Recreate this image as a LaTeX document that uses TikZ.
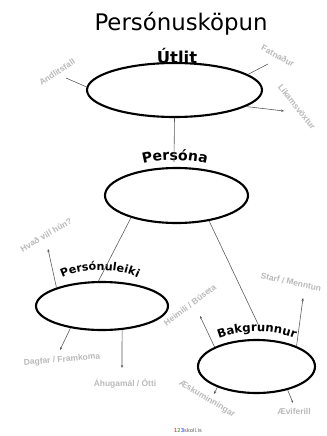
\documentclass[tikz,border=0pt]{standalone}
\usepackage{fontspec}
\setmainfont{DejaVu Sans}
\newfontfamily\hintfont{Liberation Sans}
\usetikzlibrary{shapes.geometric, arrows.meta, decorations.text}

\begin{document}
\begin{tikzpicture}[
    x=0.3mm, y=-0.3mm,
    ring/.style={ellipse, draw=black, line width=1.8pt, inner sep=0pt},
    hint/.style={font=\hintfont\bfseries\fontsize{7.2}{8}\selectfont, text=gray!55, inner sep=1pt},
    link/.style={draw=gray!70!black, line width=0.5pt},
    pointer/.style={link, -{Stealth[length=2.5pt, width=2pt]}},
    bent/.style={decorate, decoration={text along path, text align=center, text={#1}}}
]
    \useasboundingbox (0,0) rectangle (326,436);

    % Title
    \node[font=\fontsize{19.5}{22}\selectfont] (title) at (181,24) {Persónusköpun};

    % Utlit
    \node[ring, minimum width=52.5mm, minimum height=16.2mm] (utlit) at (174.5,90) {};
    \node[font=\bfseries\fontsize{14}{14}\selectfont] (utlittxt) at (177,56) {Útlit};

    % Persona
    \node[ring, minimum width=42.9mm, minimum height=16.5mm] (persona) at (176.5,195.5) {};
    \path[bent={|\bfseries\fontsize{12}{12}\selectfont|Persóna}] (128,170) .. controls (150,157) and (200,157) .. (222,170);
    \coordinate (personatxt) at (174,162);

    % Personuleiki
    \node[ring, minimum width=39.6mm, minimum height=14.4mm] (pleik) at (102,306) {};
    \path[bent={|\bfseries\fontsize{9.5}{10}\selectfont|Persónuleiki}] (50,286) .. controls (72,265) and (128,265) .. (150,286);

    % Bakgrunnur
    \node[ring, minimum width=35.1mm, minimum height=15.9mm] (bakg) at (256.5,366.5) {};
    \path[bent={|\bfseries\fontsize{10}{10}\selectfont|Bakgrunnur}] (202,348) .. controls (228,326) and (286,326) .. (312,348);
    \coordinate (bakgtxt) at (258,324);

    % main links
    \draw[link] (utlit.south) -- (personatxt);
    \draw[link] (persona.206) -- (pleik.98);
    \draw[link] (persona.322) -- (bakgtxt);

    % Utlit hints
    \node[hint, rotate=33] (andlit) at (57,72) {Andlitsfall};
    \node[hint, rotate=-29] (fatn) at (278,56) {Fatnaður};
    \node[hint, rotate=-52] (likam) at (297,107) {Líkamsvöxtur};
    \coordinate (andlitend) at (66,78);
    \coordinate (fatnend) at (268,64);
    \coordinate (likamend) at (284,111);
    \draw[link] (utlit.178) -- (andlitend);
    \draw[link] (utlit.12) -- (fatnend);
    \draw[pointer] (utlit.-13) -- (likamend);

    % Personuleiki hints
    \node[hint, rotate=30] (hvad) at (46,235) {Hvað vill hún?};
    \node[hint, rotate=5] (dagfar) at (62,360) {Dagfar / Framkoma};
    \node[hint] (ahugi) at (125,384) {Áhugamál / Ótti};
    \coordinate (hvadend) at (48,249);
    \coordinate (dagfarend) at (60,350);
    \coordinate (ahugiend) at (122,368);
    \draw[pointer] (pleik.158) -- (hvadend);
    \draw[pointer] (pleik.215) -- (dagfarend);
    \draw[pointer] (pleik.-50) -- (ahugiend);

    % Bakgrunnur hints
    \node[hint, rotate=37] (heim) at (190,305) {Heimili / Búseta};
    \node[hint, rotate=-12] (starf) at (291,282) {Starf / Menntun};
    \node[hint, rotate=-31] (aeska) at (207,399) {Æskuminningar};
    \node[hint] (aevi) at (294,411) {Æviferill};
    \coordinate (heimend) at (200,316);
    \coordinate (starfend) at (303,298);
    \coordinate (aeskaend) at (214,394);
    \coordinate (aeviend) at (293,403);
    \draw[pointer] (bakg.155) -- (heimend);
    \draw[pointer] (bakg.27) -- (starfend);
    \draw[pointer] (bakg.208) -- (aeskaend);
    \draw[pointer] (bakg.-37) -- (aeviend);

    % footer
    \node[font=\fontsize{4.5}{5}\selectfont, text=gray!70!black] (logo) at (188,431)
        {{\color{red}1}{\color{green!60!black}2}{\color{blue}3}skoli.is};

\end{tikzpicture}
\end{document}
